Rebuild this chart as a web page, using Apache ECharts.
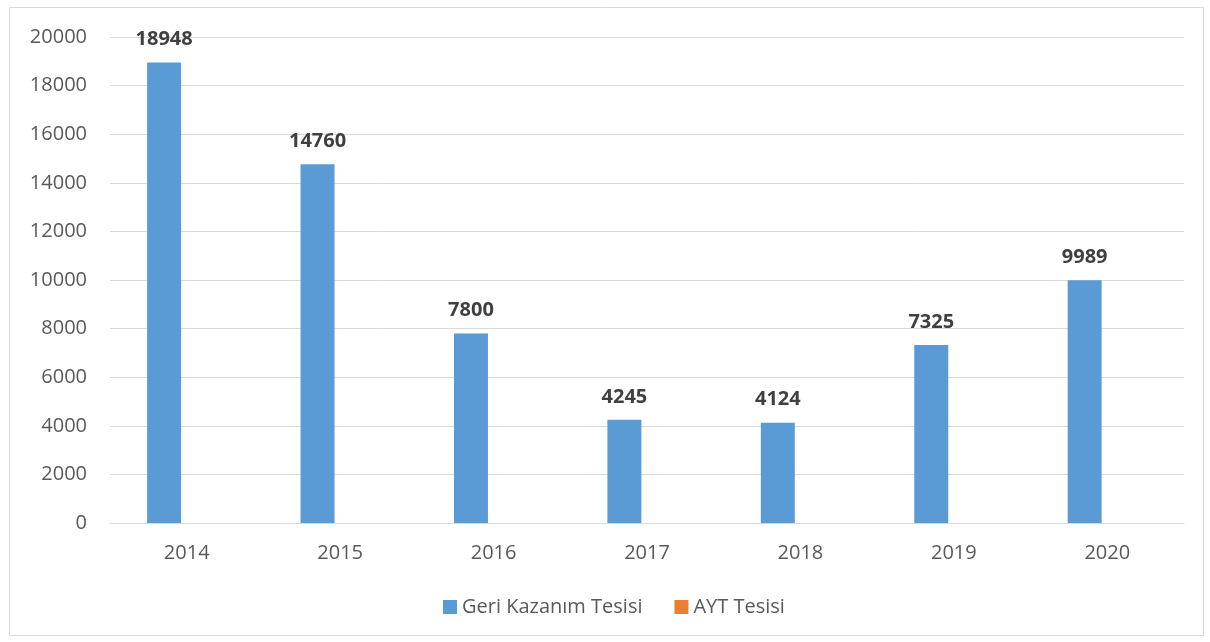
<!DOCTYPE html>
<html>
<head>
<meta charset="utf-8">
<script src="https://cdn.jsdelivr.net/npm/echarts@6/dist/echarts.min.js"></script>
<style>
html, body { margin: 0; padding: 0; background: #fff; }
#chart { width: 1210px; height: 642px; }
</style>
</head>
<body>
<div id="chart"></div>
<script>
// veriler
var years = ['2014', '2015', '2016', '2017', '2018', '2019', '2020'];
var geriKazanim = [18948, 14760, 7800, 4245, 4124, 7325, 9989];
var ayt = [null, null, null, null, null, null, null];
var yTicks = [0, 20000, 2000];   // min, max, interval

var myChart = echarts.init(document.getElementById('chart'));

var option = {
    animation: false,
    textStyle: { fontFamily: 'Open Sans' },
    graphic: [{
        type: 'rect',
        shape: { x: 9.5, y: 7.5, width: 1194, height: 628 },
        style: { fill: 'none', stroke: '#d9d9d9', lineWidth: 1 }
    }],
    legend: {
        bottom: 20,
        left: 438,
        itemWidth: 14,
        itemHeight: 14,
        itemGap: 32,
        icon: 'rect',
        textStyle: { color: '#595959', fontSize: 20 },
        data: ['Geri Kazanım Tesisi', 'AYT Tesisi']
    },
    grid: {
        left: 110,
        right: 26,
        top: 37,
        bottom: 119
    },
    xAxis: {
        type: 'category',
        data: years,
        axisLine: { show: true, lineStyle: { color: '#d9d9d9', width: 1 } },
        axisTick: { show: false },
        axisLabel: { color: '#595959', fontSize: 20, margin: 20 }
    },
    yAxis: {
        type: 'value',
        min: yTicks[0],
        max: yTicks[1],
        interval: yTicks[2],
        axisLine: { show: false },
        axisTick: { show: false },
        axisLabel: {
            color: '#595959',
            fontSize: 20,
            margin: 23,
            formatter: function (v) { return String(v); }
        },
        splitLine: { lineStyle: { color: '#d9d9d9', width: 1 } }
    },
    series: [
        {
            name: 'Geri Kazanım Tesisi',
            type: 'bar',
            barWidth: 34,
            barGap: '33%',
            data: geriKazanim,
            itemStyle: { color: '#5b9bd5' },
            label: {
                show: true,
                position: 'top',
                distance: 13,
                color: '#404040',
                fontSize: 20,
                fontWeight: 'bold'
            }
        },
        {
            name: 'AYT Tesisi',
            type: 'bar',
            barWidth: 34,
            data: ayt,
            itemStyle: { color: '#ed7d31' }
        }
    ]
};

myChart.setOption(option);
</script>
</body>
</html>
